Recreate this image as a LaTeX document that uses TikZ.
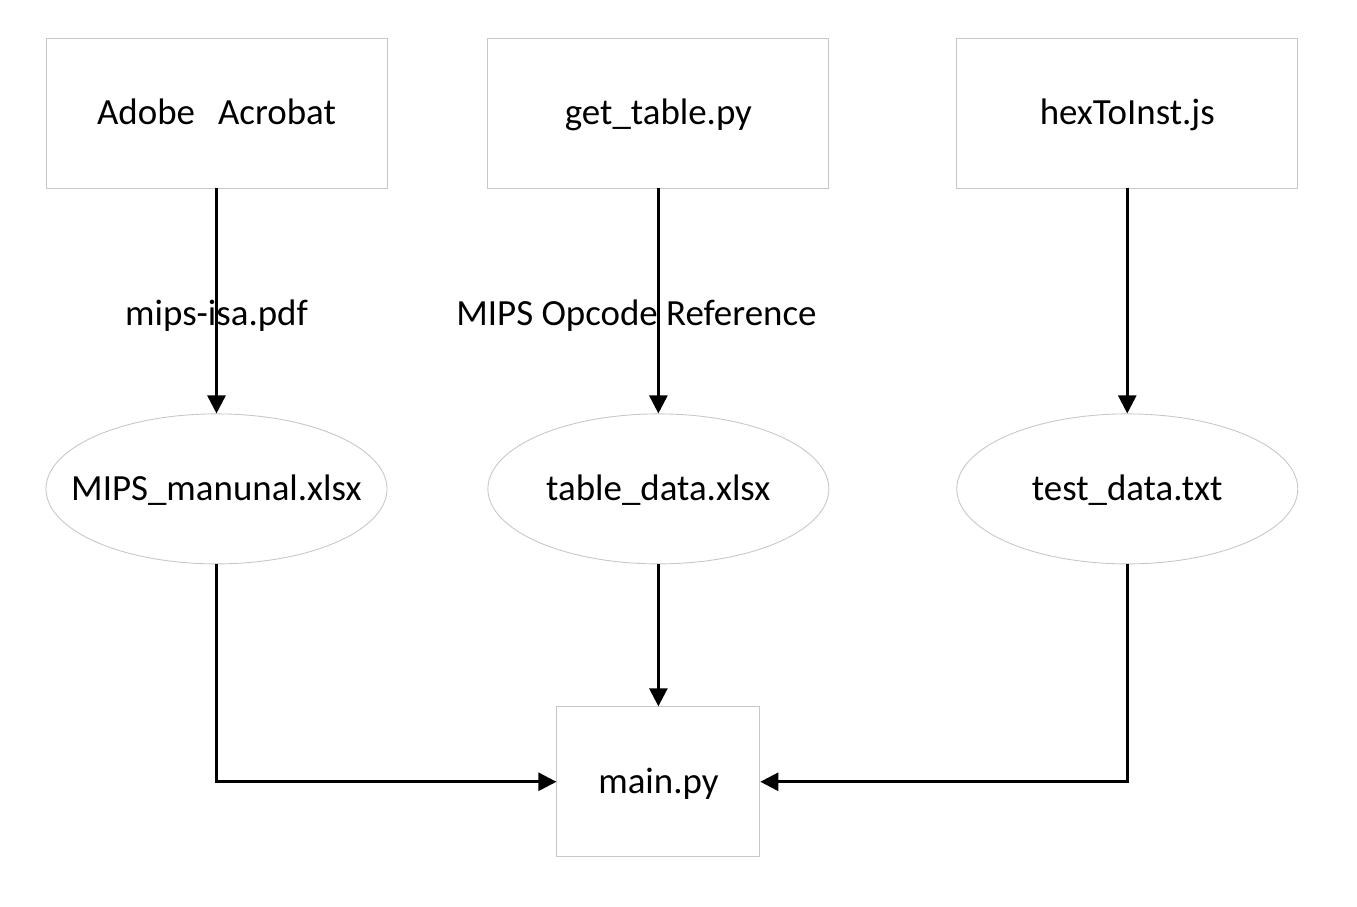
\documentclass[tikz,border=0pt]{standalone}
\usepackage{fontspec}
\setmainfont{Carlito}
\usetikzlibrary{shapes.geometric,arrows.meta,positioning}

\begin{document}
\begin{tikzpicture}[
  node distance=4.5cm and 2cm,
  box/.style={draw=black!22, line width=0.5pt, minimum width=6.82cm, minimum height=3cm, align=center, font=\fontsize{21}{25}\selectfont, inner sep=0pt, text height=14pt, text depth=0.6pt},
  oval/.style={ellipse, draw=black!22, line width=0.5pt, minimum width=6.82cm, minimum height=3cm, font=\fontsize{21}{25}\selectfont, inner xsep=-1cm, inner ysep=0pt, text height=14pt, text depth=0.6pt},
  lbl/.style={font=\fontsize{21}{25}\selectfont, inner sep=0pt},
  arr/.style={-{Triangle[width=0.36cm, length=0.36cm]}, line width=1.5pt}
]
  \useasboundingbox (0,0) rectangle (27.14,-18.12);
  \node[box] (acro) at (4.33,-2.26) {Adobe\hspace{0.4em} Acrobat};
  \node[box, right=2cm of acro] (gettab) {get\_table.py};
  \node[box, right=2.54cm of gettab] (hexjs) {hexToInst.js};
  \node[oval, below=4.5cm of acro] (manual) {MIPS\_manunal.xlsx};
  \node[oval, below=4.5cm of gettab] (tabdata) {table\_data.xlsx};
  \node[oval, below=4.5cm of hexjs] (testdata) {test\_data.txt};
  \node[box, minimum width=4.06cm, below=2.84cm of tabdata] (mainpy) {main.py};
  % upper row
  \draw[arr] (acro) -- node[lbl, pos=0.564] {mips-isa.pdf} (manual);
  \draw[arr] (gettab) -- node[lbl, pos=0.564, xshift=-0.44cm] {MIPS Opcode Reference} (tabdata);
  \draw[arr] (hexjs) -- (testdata);
  % into main.py
  \draw[arr] (tabdata) -- (mainpy);
  \draw[arr] (manual.south) |- (mainpy.west);
  \draw[arr] (testdata.south) |- (mainpy.east);
\end{tikzpicture}
\end{document}
